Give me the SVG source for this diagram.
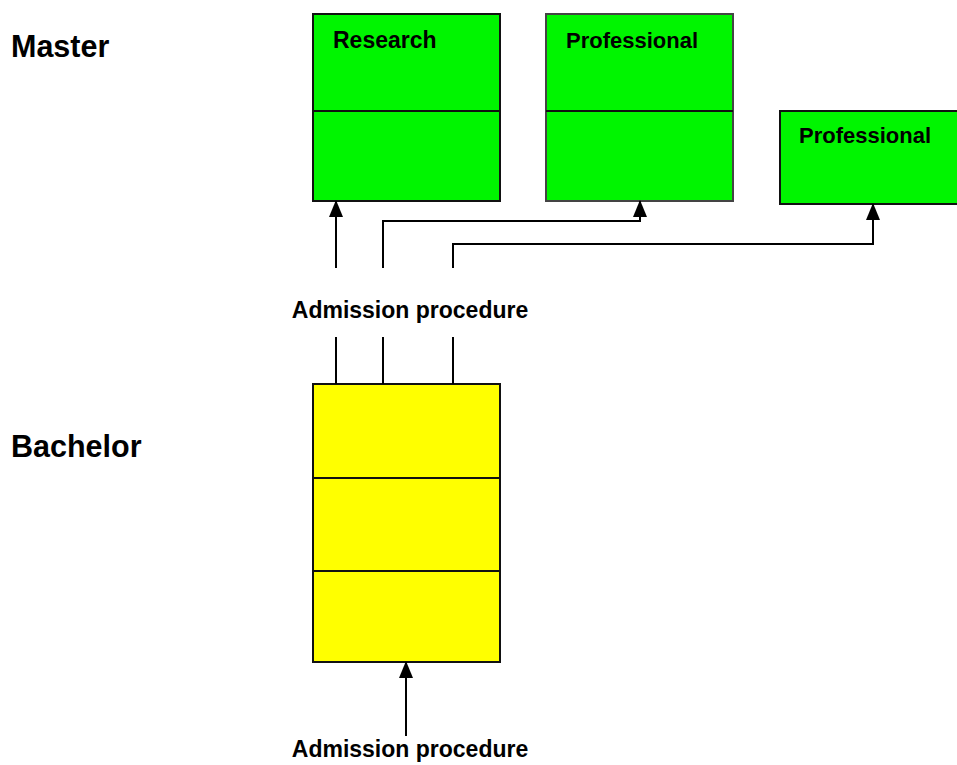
<svg xmlns="http://www.w3.org/2000/svg" width="957" height="765" viewBox="0 0 957 765">
<style>
.box{stroke:#111;stroke-width:2}
.g{fill:#00f500}
.y{fill:#ffff00}
.div{stroke:#111;stroke-width:2}
.t{font-family:"Liberation Sans",Arial,sans-serif;font-weight:bold;fill:#000}
.lbl{font-size:23px}
.pro{font-size:22px}
.big{font-size:30.5px}
.c{fill:none;stroke:#000;stroke-width:2}
</style>
<defs>
<marker id="ah" markerUnits="userSpaceOnUse" markerWidth="18" markerHeight="18" viewBox="0 0 18 18" refX="16" refY="9" orient="auto">
<path d="M0,2 L17,9 L0,16 Z" fill="#000"/>
</marker>
</defs>
<text class="t big" x="11" y="57">Master</text>
<text class="t big" x="11" y="457">Bachelor</text>
<g id="research">
<rect class="box g" x="313" y="14" width="187" height="187"/>
<line class="div" x1="313" y1="111" x2="500" y2="111"/>
<text class="t lbl" x="333" y="48">Research</text>
</g>
<g id="professional1">
<rect class="box g" x="546" y="14" width="187" height="187" style="stroke:#444"/>
<line class="div" x1="546" y1="111" x2="733" y2="111"/>
<text class="t pro" x="566" y="48">Professional</text>
</g>
<g id="professional2">
<rect class="box g" x="780" y="111" width="190" height="93"/>
<text class="t pro" x="799" y="143">Professional</text>
</g>
<g id="bachelor">
<rect class="box y" x="313" y="384" width="187" height="278"/>
<line class="div" x1="313" y1="478" x2="500" y2="478"/>
<line class="div" x1="313" y1="571" x2="500" y2="571"/>
</g>
<g id="admission-top">
<text class="t lbl" x="410" y="318" text-anchor="middle">Admission procedure</text>
</g>
<g id="admission-bottom">
<text class="t lbl" x="410" y="757" text-anchor="middle">Admission procedure</text>
</g>
<g id="connectors">
<path class="c" d="M336,268 V201" marker-end="url(#ah)"/>
<path class="c" d="M383,268 V221 H640 V201" marker-end="url(#ah)"/>
<path class="c" d="M453,268 V244 H873 V204" marker-end="url(#ah)"/>
<path class="c" d="M336,337 V384"/>
<path class="c" d="M383,337 V384"/>
<path class="c" d="M453,337 V384"/>
<path class="c" d="M406,736 V662" marker-end="url(#ah)"/>
</g>
</svg>
